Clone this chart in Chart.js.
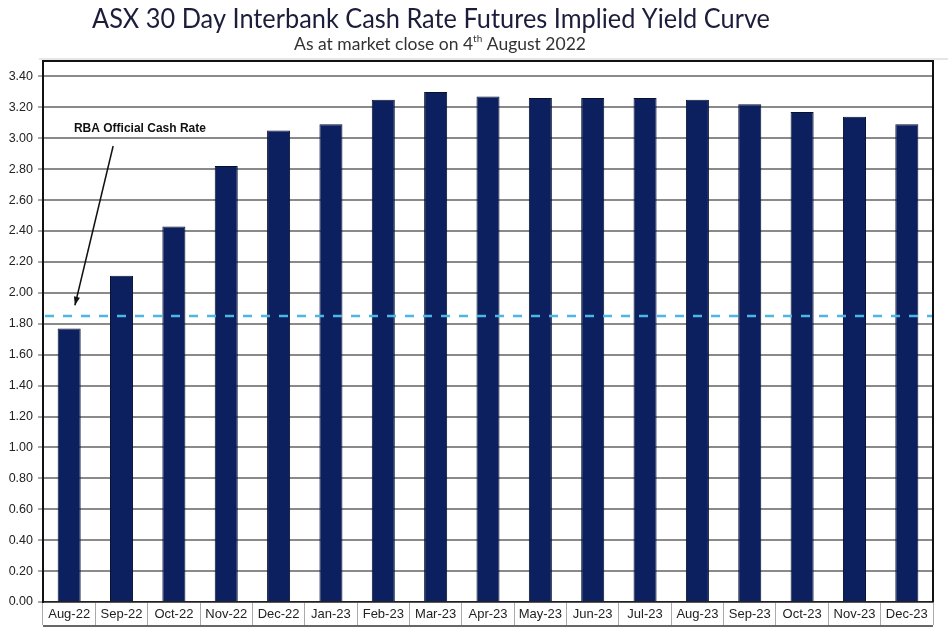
<!DOCTYPE html>
<html>
<head>
<meta charset="utf-8">
<script src="https://cdn.jsdelivr.net/npm/chart.js@4"></script>
<style>
  html, body { margin: 0; padding: 0; background: #fff; }
  #wrap { width: 948px; height: 628px; }
</style>
</head>
<body>
<div id="wrap"><canvas id="yieldChart" width="948" height="628"></canvas></div>
<script>
const months = ['Aug-22', 'Sep-22', 'Oct-22', 'Nov-22', 'Dec-22', 'Jan-23', 'Feb-23', 'Mar-23', 'Apr-23',
    'May-23', 'Jun-23', 'Jul-23', 'Aug-23', 'Sep-23', 'Oct-23', 'Nov-23', 'Dec-23'];
const impliedYield = [1.77, 2.11, 2.43, 2.82, 3.05, 3.09, 3.25, 3.30, 3.27, 3.26, 3.26, 3.26, 3.25, 3.22, 3.17, 3.14, 3.09];
const cashRate = 1.85;
const yMax = 3.5;
const yStep = 0.2;

const titleText = 'ASX 30 Day Interbank Cash Rate Futures Implied Yield Curve';
const subtitleParts = ['As at market close on 4', 'th', ' August 2022'];
const noteText = 'RBA Official Cash Rate';

// titles, cash rate line, arrow note, frame lines
const extras = {
    id: 'extras',
    afterDraw(chart) {
        const ctx = chart.ctx;
        const area = chart.chartArea;
        const x = chart.scales.x;
        const y = chart.scales.y;

        ctx.save();
        // title, squeezed a little to the narrow look of the original
        ctx.fillStyle = '#1b1d3a';
        ctx.font = '27px Lato';
        ctx.textBaseline = 'alphabetic';
        ctx.textAlign = 'left';
        const tw = ctx.measureText(titleText).width;
        const sq = 678 / tw;
        ctx.save();
        ctx.translate(431 - 339, 28);
        ctx.scale(sq, 1);
        ctx.fillText(titleText, 0, 0);
        ctx.restore();

        // subtitle with superscript
        ctx.fillStyle = '#333';
        ctx.font = '17.5px Lato';
        const w0 = ctx.measureText(subtitleParts[0]).width;
        ctx.font = '10px Lato';
        const w1 = ctx.measureText(subtitleParts[1]).width;
        ctx.font = '17.5px Lato';
        const w2 = ctx.measureText(subtitleParts[2]).width;
        let sx = 440 - (w0 + w1 + w2) / 2;
        ctx.fillText(subtitleParts[0], sx, 50);
        ctx.font = '10px Lato';
        ctx.fillText(subtitleParts[1], sx + w0, 42);
        ctx.font = '17.5px Lato';
        ctx.fillText(subtitleParts[2], sx + w0 + w1, 50);

        // frame: top, right, bottom of label strip
        ctx.strokeStyle = '#111';
        ctx.lineWidth = 2;
        ctx.beginPath();
        ctx.moveTo(area.left, area.top);
        ctx.lineTo(area.right, area.top);
        ctx.lineTo(area.right, area.bottom);
        ctx.stroke();
        ctx.strokeStyle = '#333';
        ctx.lineWidth = 1.5;
        ctx.beginPath();
        ctx.moveTo(area.left, chart.height - 2);
        ctx.lineTo(area.right, chart.height - 2);
        ctx.stroke();
        ctx.strokeStyle = '#ccc';
        ctx.lineWidth = 1;
        ctx.beginPath();
        ctx.moveTo(area.left - 4, area.top - 2);
        ctx.lineTo(chart.width, area.top - 2);
        ctx.stroke();

        // cash rate dashed line
        const cy = y.getPixelForValue(cashRate);
        ctx.strokeStyle = '#4cb6e4';
        ctx.lineWidth = 2.5;
        ctx.setLineDash([9, 9]);
        ctx.beginPath();
        ctx.moveTo(area.left + 2, cy);
        ctx.lineTo(area.right - 1, cy);
        ctx.stroke();
        ctx.setLineDash([]);

        // note text and arrow
        ctx.fillStyle = '#111';
        ctx.font = 'bold 12px Arial';
        ctx.textBaseline = 'middle';
        ctx.fillText(noteText, x.getPixelForValue(0.09), y.getPixelForValue(3.06));

        const x1 = x.getPixelForValue(0.84), y1 = y.getPixelForValue(2.95);
        const x2 = x.getPixelForValue(0.11), y2 = y.getPixelForValue(1.92);
        ctx.strokeStyle = '#111';
        ctx.lineWidth = 1.5;
        ctx.beginPath();
        ctx.moveTo(x1, y1);
        ctx.lineTo(x2, y2);
        ctx.stroke();
        const ang = Math.atan2(y2 - y1, x2 - x1);
        ctx.beginPath();
        ctx.moveTo(x2, y2);
        ctx.lineTo(x2 - 9 * Math.cos(ang - 0.35), y2 - 9 * Math.sin(ang - 0.35));
        ctx.lineTo(x2 - 9 * Math.cos(ang + 0.35), y2 - 9 * Math.sin(ang + 0.35));
        ctx.closePath();
        ctx.fill();
        ctx.restore();
    }
};

const ctx = document.getElementById('yieldChart').getContext('2d');
new Chart(ctx, {
    type: 'bar',
    data: {
        labels: months,
        datasets: [{
            label: 'Implied yield',
            data: impliedYield,
            backgroundColor: '#0c1f5e',
            borderColor: '#06112f',
            borderWidth: 1,
            barPercentage: 0.44,
            categoryPercentage: 1
        }]
    },
    options: {
        responsive: false,
        animation: false,
        layout: { padding: { top: 61, right: 15, left: 0, bottom: 0 } },
        plugins: {
            legend: { display: false },
            tooltip: { enabled: false }
        },
        scales: {
            x: {
                afterFit: s => { s.height = 26; },
                grid: {
                    offset: true,
                    drawOnChartArea: false,
                    tickLength: 23,
                    color: '#aaa'
                },
                border: { color: '#222', width: 1.5 },
                ticks: {
                    color: '#222',
                    font: { family: 'Arial', size: 13 },
                    padding: -18,
                    maxRotation: 0,
                    autoSkip: false
                }
            },
            y: {
                min: 0,
                max: yMax,
                afterFit: s => { s.width = 43; },
                afterBuildTicks: s => { s.ticks = s.ticks.filter(t => t.value <= 3.41); },
                grid: {
                    color: '#8a8a8a',
                    lineWidth: 2,
                    tickLength: 5,
                    tickColor: '#555',
                    tickWidth: 1
                },
                border: { color: '#111', width: 2 },
                ticks: {
                    stepSize: yStep,
                    color: '#222',
                    padding: 5,
                    font: { family: 'Arial', size: 12.5 },
                    callback: v => Number(v).toFixed(2)
                }
            }
        }
    },
    plugins: [extras]
});
</script>
</body>
</html>
